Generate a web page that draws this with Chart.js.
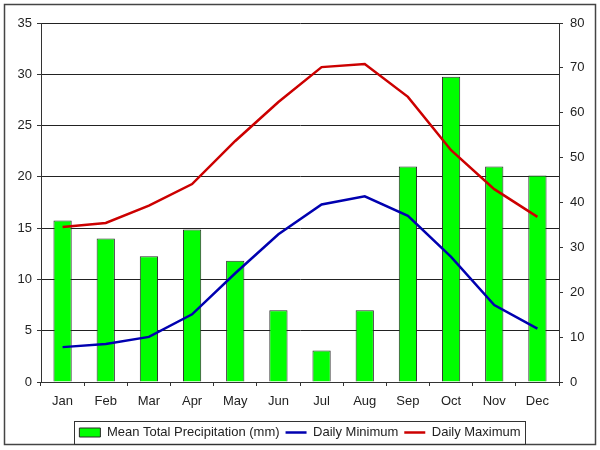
<!DOCTYPE html>
<html>
<head>
<meta charset="utf-8">
<script src="https://cdn.jsdelivr.net/npm/chart.js@4/dist/chart.umd.min.js"></script>
<style>
  html, body { margin: 0; padding: 0; background: #fff; }
  #wrap { width: 600px; height: 450px; }
</style>
</head>
<body>
<div id="wrap"><canvas id="myChart" width="600" height="450"></canvas></div>
<script>
var months = ['Jan', 'Feb', 'Mar', 'Apr', 'May', 'Jun', 'Jul', 'Aug', 'Sep', 'Oct', 'Nov', 'Dec'];
var precipitation = [36, 32, 28, 34, 27, 16, 7, 16, 48, 68, 48, 46];
var dailyMin = [3.4, 3.7, 4.4, 6.6, 10.6, 14.4, 17.3, 18.1, 16.2, 12.2, 7.5, 5.2];
var dailyMax = [15.1, 15.5, 17.2, 19.3, 23.5, 27.3, 30.7, 31.0, 27.8, 22.6, 18.8, 16.1];

var inkColor = '#222';
var fontFamily = '"Liberation Sans", Arial, sans-serif';

// white page, outer frame and a box round the legend
var framePlugin = {
    id: 'frame',
    beforeDraw: function (chart) {
        var c = chart.ctx;
        c.save();
        c.fillStyle = '#fff';
        c.fillRect(0, 0, chart.width, chart.height);
        c.strokeStyle = '#444';
        c.lineWidth = 1.5;
        c.strokeRect(4.5, 4.5, 591, 440);
        c.restore();
    },
    afterDraw: function (chart) {
        var boxes = chart.legend.legendHitBoxes;
        if (!boxes || !boxes.length) return;
        var left = Infinity, right = -Infinity, top = Infinity, bottom = -Infinity;
        boxes.forEach(function (b) {
            left = Math.min(left, b.left);
            right = Math.max(right, b.left + b.width);
            top = Math.min(top, b.top);
            bottom = Math.max(bottom, b.top + b.height);
        });
        var c = chart.ctx;
        c.save();
        c.strokeStyle = '#333';
        c.lineWidth = 1;
        c.strokeRect(Math.round(left - 5) + 0.5, Math.round(top - 5) + 0.5,
            Math.round(right - left + 10), Math.round(bottom - top + 10));
        c.restore();
    }
};

Chart.defaults.font.family = fontFamily;
Chart.defaults.font.size = 13;
Chart.defaults.color = inkColor;

const ctx = document.getElementById('myChart').getContext('2d');
const myChart = new Chart(ctx, {
    type: 'bar',
    data: {
        labels: months,
        datasets: [{
            type: 'bar',
            label: 'Mean Total Precipitation (mm)',
            data: precipitation,
            yAxisID: 'y1',
            backgroundColor: '#00ff00',
            borderColor: '#2a2a2a',
            borderWidth: 1,
            barPercentage: 0.9,
            categoryPercentage: 0.47,
            pointStyle: 'rect',
            order: 2
        }, {
            type: 'line',
            label: 'Daily Minimum',
            data: dailyMin,
            yAxisID: 'y',
            borderColor: '#0000b0',
            backgroundColor: '#0000b0',
            borderWidth: 2.5,
            pointRadius: 0,
            pointStyle: 'line',
            tension: 0,
            order: 1
        }, {
            type: 'line',
            label: 'Daily Maximum',
            data: dailyMax,
            yAxisID: 'y',
            borderColor: '#cc0000',
            backgroundColor: '#cc0000',
            borderWidth: 2.5,
            pointRadius: 0,
            pointStyle: 'line',
            tension: 0,
            order: 1
        }]
    },
    options: {
        responsive: false,
        animation: false,
        layout: {
            padding: { top: 23, bottom: 1, left: 0, right: 0 }
        },
        plugins: {
            tooltip: { enabled: false },
            legend: {
                position: 'bottom',
                labels: {
                    usePointStyle: true,
                    pointStyleWidth: 21,
                    boxHeight: 9,
                    padding: 6,
                    color: inkColor,
                    sort: function (a, b) { return a.datasetIndex - b.datasetIndex; }
                }
            }
        },
        scales: {
            x: {
                offset: true,
                grid: {
                    offset: true,
                    drawOnChartArea: false,
                    drawTicks: true,
                    tickLength: 4,
                    color: '#333'
                },
                border: { display: true, color: '#333', width: 1 },
                ticks: { padding: 8, color: inkColor },
                afterFit: function (s) { s.height = 38; }
            },
            y: {
                position: 'left',
                min: 0,
                max: 35,
                ticks: { stepSize: 5, padding: 5, color: inkColor },
                grid: {
                    color: '#222',
                    tickLength: 4,
                    tickColor: '#333'
                },
                border: { display: true, color: '#333', width: 1 },
                afterFit: function (s) { s.width = 41; }
            },
            y1: {
                position: 'right',
                min: 0,
                max: 80,
                ticks: { stepSize: 10, padding: 7, color: inkColor },
                grid: {
                    drawOnChartArea: false,
                    tickLength: 4,
                    color: '#333'
                },
                border: { display: true, color: '#333', width: 1 },
                afterFit: function (s) { s.width = 41; }
            }
        }
    },
    plugins: [framePlugin]
});
</script>
</body>
</html>
